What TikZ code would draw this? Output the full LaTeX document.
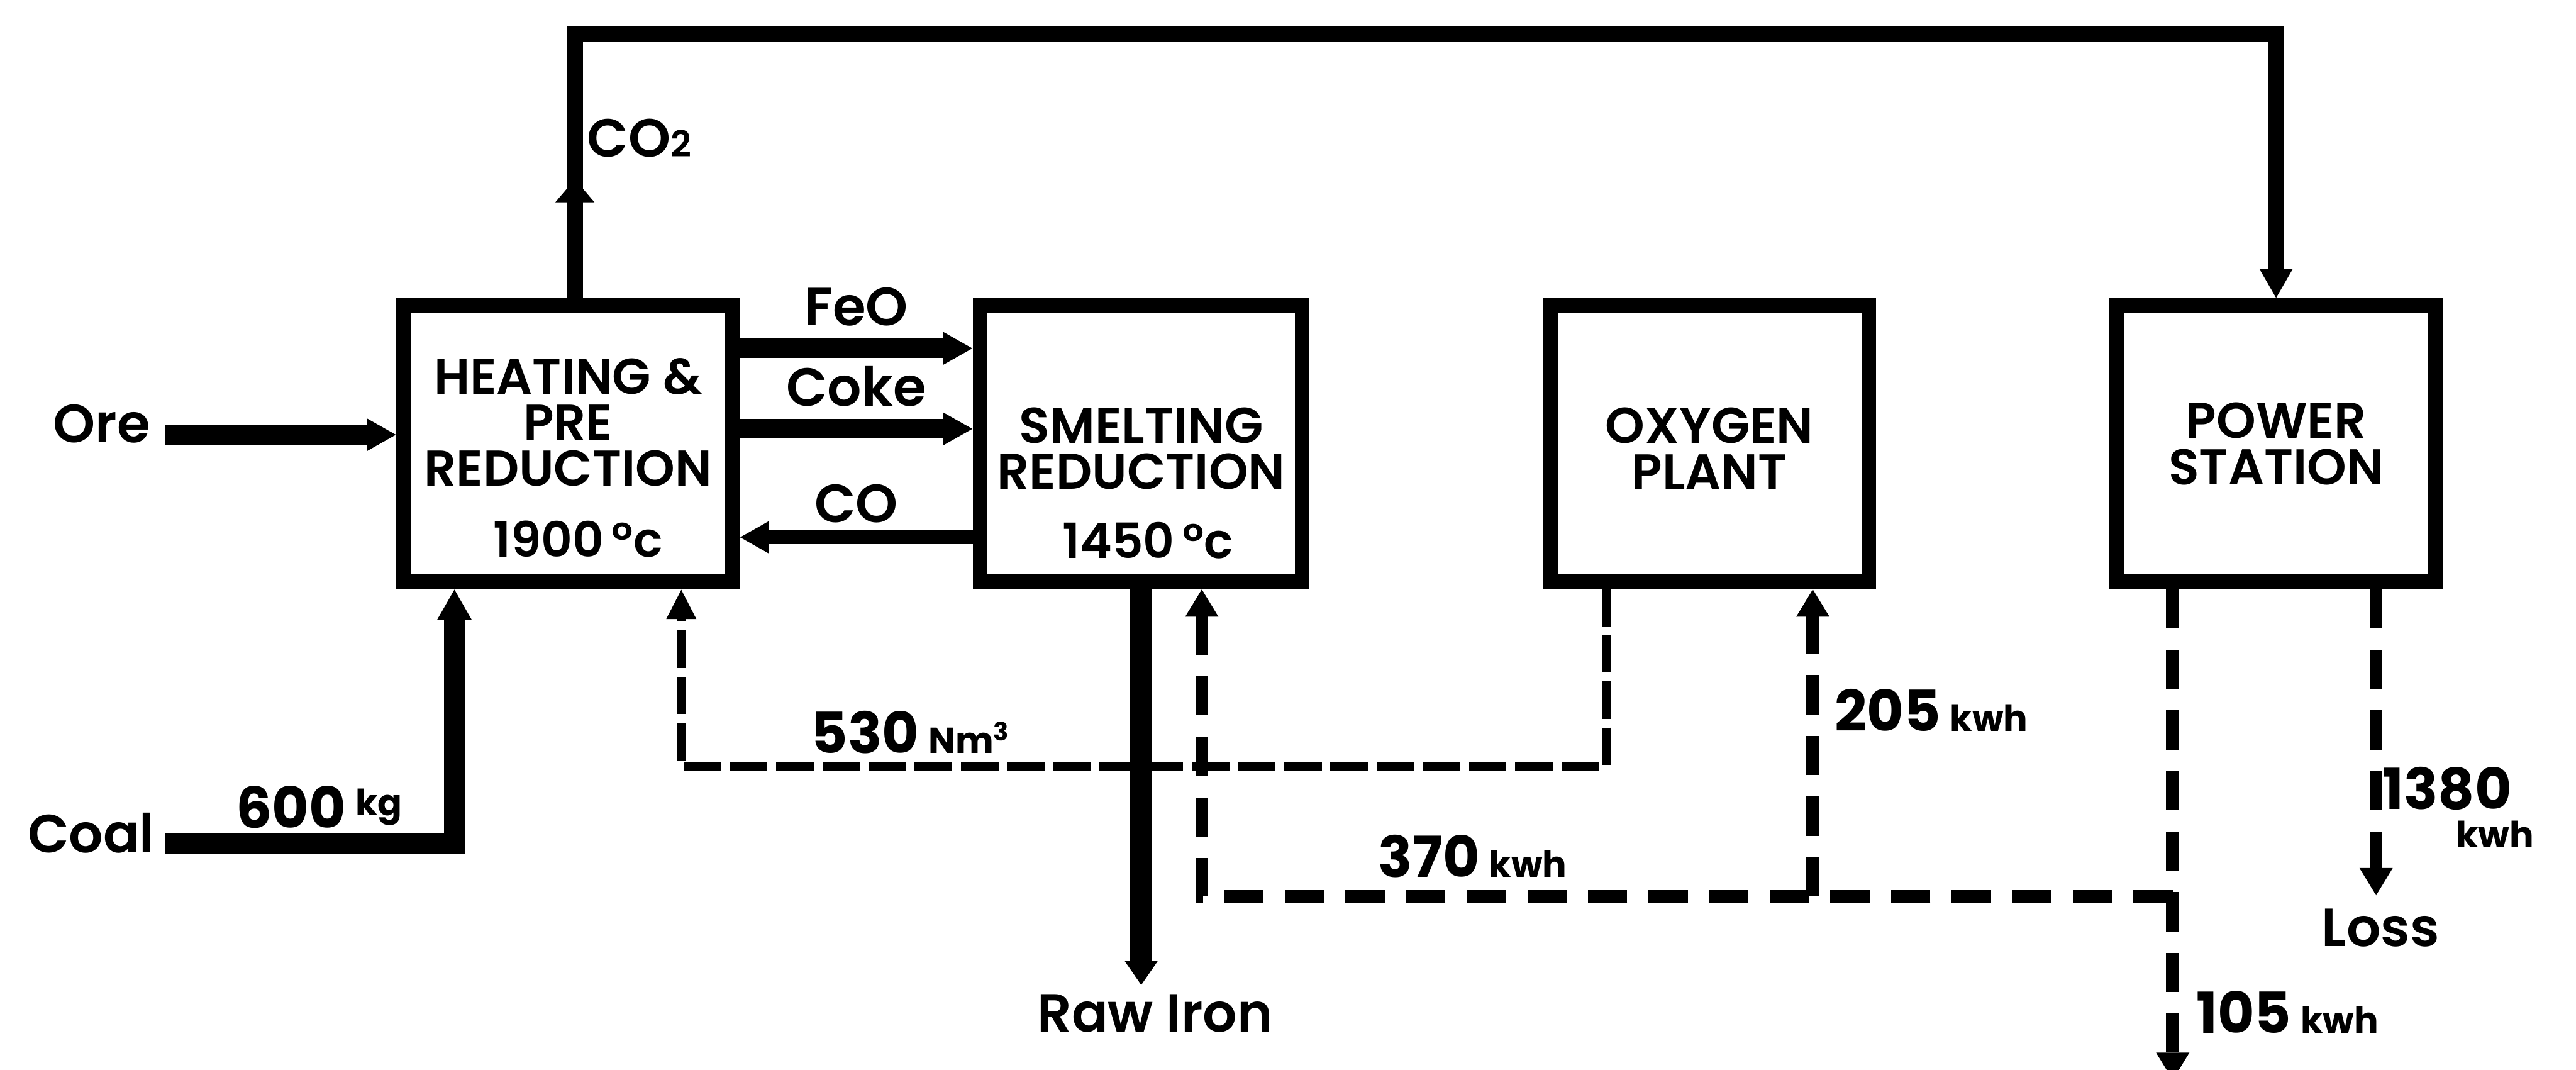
\documentclass[tikz,border=0pt]{standalone}
\usepackage{fontspec}
\setmainfont{Poppins}[UprightFont={* SemiBold}, BoldFont={* Bold}]
\usetikzlibrary{positioning,calc,arrows.meta,decorations.markings}
\newcommand{\qunit}[1]{{\fontsize{12.5}{15}\selectfont #1}}

\begin{document}
\begin{tikzpicture}[
    x=0.02cm, y=-0.02cm,
    unit/.style={draw, line width=5.1pt, minimum height=3.36cm, inner sep=0pt},
    unitname/.style={align=center, inner sep=0pt, font=\fontsize{17.4}{16}\selectfont},
    temp/.style={inner sep=0pt, font=\fontsize{16.8}{20}\selectfont},
    stream/.style={inner sep=0pt, font=\fontsize{18.6}{22}\selectfont},
    qty/.style={inner sep=0pt, font=\fontsize{19.6}{24}\selectfont\bfseries},
    feed/.style={line width=6.8pt, -{Triangle[length=10.2pt, width=10.5pt]}},
    gas/.style={line width=5.4pt},
    elec/.style={line width=4.5pt, dash pattern=on 13.6pt off 7.4pt, -{Triangle[length=9.6pt, width=10.8pt]}},
    oxline/.style={line width=3.2pt, dash pattern=on 13pt off 3pt, -{Triangle[length=10.4pt, width=9.6pt]}},
]
\useasboundingbox (0,0) rectangle (1568,651);

% process units
\node[unit, minimum width=4cm] (heat) at (345.75,270) {};
\node[unit, minimum width=3.92cm, right=2.84cm of heat] (smelt) {};
\node[unit, minimum width=3.88cm, right=2.84cm of smelt] (oxy) {};
\node[unit, minimum width=3.88cm, right=2.84cm of oxy] (power) {};

\node[unitname] (heat-name) at ($(heat.center)+(0,-13)$) {HEATING \&\\PRE\\REDUCTION};
\node[unitname] (smelt-name) at ($(smelt.center)+(0,3)$) {SMELTING\\REDUCTION};
\node[unitname] (oxy-name) at ($(oxy.center)+(0,3)$) {OXYGEN\\PLANT};
\node[unitname] (power-name) at (power.center) {POWER\\STATION};
\node[temp] (heat-temp) at ($(heat.center)+(6,58)$) {1900\,°c};
\node[temp] (smelt-temp) at ($(smelt.center)+(4,59)$) {1450\,°c};

% inputs and outputs
\node[stream, anchor=base west] (ore) at (32,269.5) {Ore};
\node[stream, anchor=base west] (coal) at (16.5,519) {Coal};
\node[stream, anchor=base] (rawiron) at (703,628) {Raw Iron};
\node[stream, anchor=base] (loss) at (1449,576) {Loss};
\node[stream, anchor=base west] (co2) at (357,95.5) {CO{\fontsize{12.5}{15}\selectfont 2}};

\coordinate (ore-out) at ($(ore.east)+(9,6.5)$);
\coordinate (coal-out) at ($(coal.east)+(6,6.5)$);
\coordinate (heat-coal) at ($(heat.south west)!0.169!(heat.south east)$);
\coordinate (heat-gas) at ($(heat.north west)!0.52!(heat.north east)$);
\coordinate (gas-top) at (0,20.5);

\draw[feed] (ore-out) -- (ore-out -| heat.west);
\draw[feed, line width=7.1pt, -{Triangle[length=10.8pt, width=11.3pt]}] (coal-out) -| (heat-coal);
\node[qty, anchor=base west] (coal-qty) at (143.4,504) {600\,\raisebox{4.3pt}{\qunit{kg}}};

\foreach \dy/\lbl in {-58/FeO, -9/Coke}
    \draw[feed] ($(heat.east)+(0,\dy)$) -- node[stream, above=4.4pt] {\lbl} ($(smelt.west)+(0,\dy)$);
\draw[feed, line width=4.8pt] ($(smelt.west)+(0,57)$) -- node[stream, above=2.7pt] {CO} ($(heat.east)+(0,57)$);

\draw[feed, line width=7.5pt, -{Triangle[length=8.5pt, width=11pt]}, shorten >=3pt] (smelt.south) -- (smelt.south |- rawiron.north);

\draw[gas, -{Triangle[length=10.2pt, width=10.8pt]}, postaction={decorate},
    decoration={markings, mark=at position 1.45cm with {\arrow{Triangle[length=8pt, width=13pt]}}}]
    (heat-gas) -- (heat-gas |- gas-top) -| (power.north);

% oxygen and electricity
\coordinate (oxy-out) at ($(oxy.south west)!0.19!(oxy.south east)$);
\coordinate (oxy-in) at ($(oxy.south west)!0.81!(oxy.south east)$);
\coordinate (heat-ox) at ($(heat.south west)!0.83!(heat.south east)$);
\coordinate (ox-bend) at ($(oxy-out)+(0,108)$);
\coordinate (smelt-in) at ($(smelt.south west)!0.68!(smelt.south east)$);
\coordinate (pw-out) at ($(power.south west)!0.19!(power.south east)$);
\coordinate (pw-loss) at ($(power.south west)!0.8!(power.south east)$);
\coordinate (grid-tap) at ($(pw-out)+(0,187)$);
\coordinate (grid-out) at ($(pw-out)+(0,299)$);

\draw[oxline] (oxy-out) -- (ox-bend) -| (heat-ox);
\draw[elec] (pw-out) -- (grid-out);
\draw[elec] (grid-tap) -| (smelt-in);
\draw[elec] (grid-tap -| oxy-in) -- (oxy-in);
\draw[elec, shorten >=4.4pt] (pw-loss) -- (pw-loss |- loss.north);

\node[qty, anchor=base west] (ox-qty) at (493.3,458.5) {530\,\qunit{Nm\textsuperscript{3}}};
\node[qty, anchor=base west] (oxy-qty) at (1116.4,445) {205\,\qunit{kwh}};
\node[qty, anchor=base west] (smelt-qty) at (838.6,534) {370\,\qunit{kwh}};
\node[qty, anchor=base west] (grid-qty) at (1336.5,628.6) {105\,\qunit{kwh}};
\node[qty, anchor=base west] (loss-qty) at (1450,492.6) {1380};
\node[qty, anchor=base west] (loss-unit) at (1494.6,516) {\qunit{kwh}};
\end{tikzpicture}
\end{document}
